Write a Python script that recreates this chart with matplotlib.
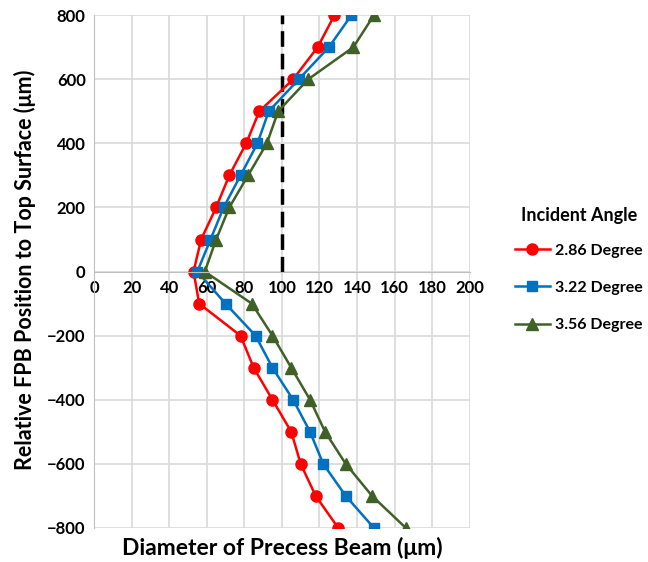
import matplotlib
matplotlib.use('Agg')
import matplotlib.pyplot as plt

plt.rcParams['font.family'] = ['Lato', 'DejaVu Sans']
plt.rcParams['font.weight'] = 'bold'

position = [800, 700, 600, 500, 400, 300, 200, 100, 0,
            -100, -200, -300, -400, -500, -600, -700, -800]
d_286 = [128, 119, 106, 88, 81, 72, 65, 57, 53,
         56, 78, 85, 95, 105, 110, 118, 130]
d_322 = [137, 125, 109, 93, 87, 78, 69, 62, 55,
         70, 86, 95, 106, 115, 122, 134, 149]
d_356 = [149, 138, 114, 98, 92, 82, 72, 65, 59,
         84, 95, 105, 115, 123, 134, 148, 166]
series_labels = ['2.86 Degree', '3.22 Degree', '3.56 Degree']
ref_x = 100

fig = plt.figure(figsize=(6.48, 5.62), dpi=100)
ax = fig.add_axes([0.145, 0.0605, 0.58, 0.9125])

ax.plot(d_286, position, color='#FF0000', marker='o', markersize=8, lw=1.8, label=series_labels[0])
ax.plot(d_322, position, color='#0070C0', marker='s', markersize=6.8, lw=1.8, label=series_labels[1])
ax.plot(d_356, position, color='#3F6128', marker='^', markersize=8, lw=1.8, label=series_labels[2])
ax.plot([ref_x, ref_x], [0, 800], color='black', lw=2.5, ls=(0, (4.5, 2)), zorder=1)

ax.set_xlim(0, 200)
ax.set_ylim(-800, 800)
ax.set_xticks(range(0, 201, 20))
ax.set_yticks(range(-800, 801, 200))
ax.grid(True, color='#D9D9D9', lw=1.2)
ax.set_axisbelow(True)
for s in ['top', 'right']:
    ax.spines[s].set_visible(False)
ax.spines['bottom'].set_position(('data', 0))
ax.spines['bottom'].set_color('#BFBFBF')
ax.spines['left'].set_color('#BFBFBF')
ax.tick_params(length=0, labelsize=12, pad=6)
for t in ax.get_xticklabels() + ax.get_yticklabels():
    t.set_fontweight('bold')

fig.text(0.435, 0.025, 'Diameter of Precess Beam (μm)', ha='center', va='center',
         fontsize=16.5, fontweight='bold')
fig.text(0.038, 0.52, 'Relative FPB Position to Top Surface (μm)', ha='center', va='center',
         rotation=90, fontsize=15.5, fontweight='bold')

leg = ax.legend(loc='center', bbox_to_anchor=(0.893, 0.52), bbox_transform=fig.transFigure,
                frameon=False, title='Incident Angle', fontsize=11.5, handlelength=2.2,
                labelspacing=1.45, handletextpad=0.3)
leg.get_title().set_fontsize(13)
leg.get_title().set_fontweight('bold')
leg._legend_box.sep = 14

fig.savefig('out.png', dpi=100)
